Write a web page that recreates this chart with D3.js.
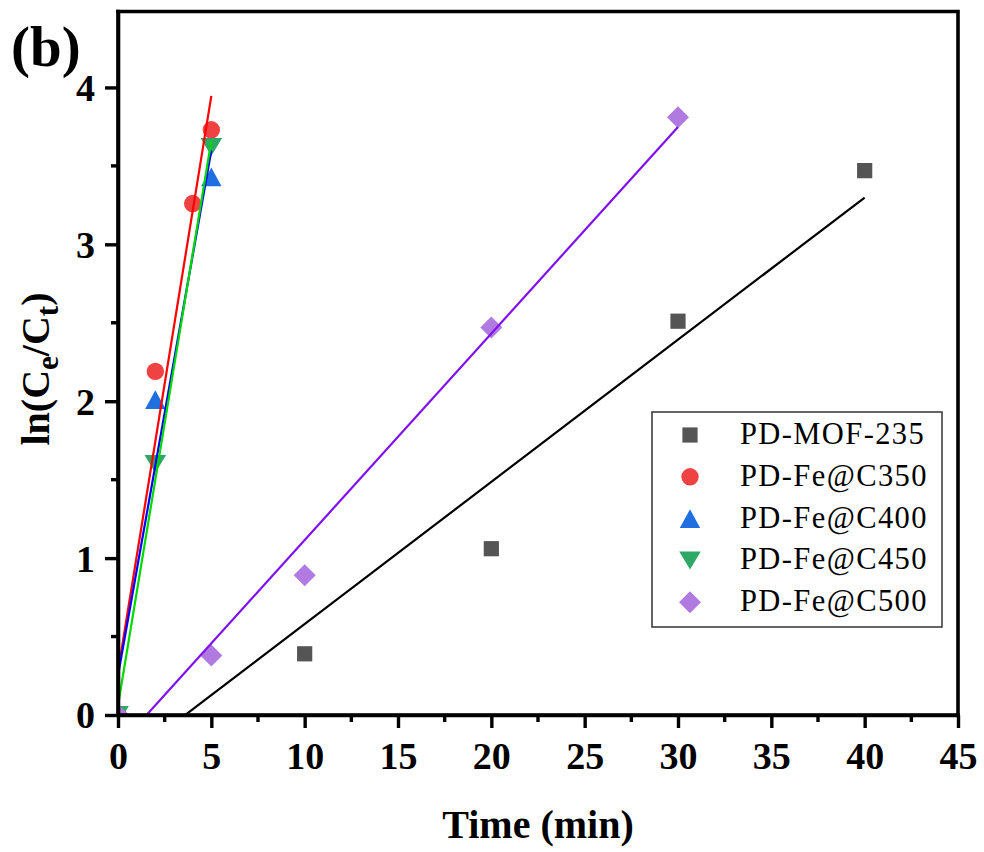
<!DOCTYPE html>
<html>
<head>
<meta charset="utf-8">
<script src="https://cdn.jsdelivr.net/npm/d3@7"></script>
<style>
  html, body { margin: 0; padding: 0; background: #fff; }
  svg { display: block; }
  text { font-family: "Times New Roman", "Liberation Serif", serif; fill: #000; }
</style>
</head>
<body>
<svg id="chart" width="984" height="852"></svg>
<script>
// Pseudo-first-order kinetics: ln(Ce/Ct) versus time for each adsorbent
const seriesNames = ["PD-MOF-235", "PD-Fe@C350", "PD-Fe@C400", "PD-Fe@C450", "PD-Fe@C500"];

const timeMOF  = [0, 10, 20, 30, 40];
const lnMOF    = [0, 0.39, 1.06, 2.51, 3.47];

const timeC350 = [0, 2, 4, 5];
const lnC350   = [0, 2.19, 3.26, 3.73];

const timeC400 = [0, 2, 5];
const lnC400   = [0, 2.01, 3.43];

const timeC450 = [0, 2, 5];
const lnC450   = [0, 1.60, 3.62];

const timeC500 = [0, 5, 10, 20, 30];
const lnC500   = [0, 0.38, 0.89, 2.47, 3.81];

const xTicks = [0, 5, 10, 15, 20, 25, 30, 35, 40, 45];
const yTicks = [0, 1, 2, 3, 4];
const xMinor = [2.5, 7.5, 12.5, 17.5, 22.5, 27.5, 32.5, 37.5, 42.5];
const yMinor = [0.5, 1.5, 2.5, 3.5];

const xTimes = [timeMOF, timeC350, timeC400, timeC450, timeC500];
const yValues = [lnMOF, lnC350, lnC400, lnC450, lnC500];

// styling per series
const markerShapes = ["square", "circle", "triUp", "triDown", "diamond"];
const markerFills  = ["#555555", "#ef4242", "#1f6fe0", "#2fa865", "#b07ae0"];
const fitColors    = ["#000000", "#ff0000", "#0000ff", "#00d800", "#7f10f0"];

const svg = d3.select("#chart");
const plotLeft = 118, plotRight = 958, plotTop = 11.5, plotBottom = 715;

const x = d3.scaleLinear().domain([0, 45]).range([plotLeft, plotRight]);
const y = d3.scaleLinear().domain([0, 4.484]).range([plotBottom, plotTop]);

function markerPath(shape) {
  switch (shape) {
    case "square":  { const h = 7.6; return `M${-h},${-h}H${h}V${h}H${-h}Z`; }
    case "circle":  { const r = 8.7; return `M${r},0A${r},${r} 0 1,1 ${-r},0A${r},${r} 0 1,1 ${r},0Z`; }
    case "triUp":   { const w = 10.2, h = 9.4; return `M0,${-h}L${w},${h}L${-w},${h}Z`; }
    case "triDown": { const w = 10.8, h = 9.0; return `M0,${h}L${w},${-h}L${-w},${-h}Z`; }
    case "diamond": { const r = 11; return `M0,${-r}L${r},0L0,${r}L${-r},0Z`; }
  }
}

// least-squares straight line through each data set
function linearFit(xs, ys) {
  const n = xs.length;
  const mx = d3.mean(xs), my = d3.mean(ys);
  let sxy = 0, sxx = 0;
  for (let i = 0; i < n; i++) { sxy += (xs[i] - mx) * (ys[i] - my); sxx += (xs[i] - mx) ** 2; }
  const slope = sxy / sxx;
  return { slope, intercept: my - slope * mx };
}

svg.append("defs").append("clipPath").attr("id", "plotClip")
  .append("rect").attr("x", plotLeft).attr("y", plotTop)
  .attr("width", plotRight - plotLeft).attr("height", plotBottom - plotTop);

const plot = svg.append("g").attr("clip-path", "url(#plotClip)");

// markers
seriesNames.forEach((name, i) => {
  const pts = xTimes[i].map((t, j) => [t, yValues[i][j]]);
  plot.append("g").selectAll("path").data(pts).join("path")
    .attr("d", markerPath(markerShapes[i]))
    .attr("transform", d => `translate(${x(d[0])},${y(d[1])})`)
    .attr("fill", markerFills[i]);
});

// fitted lines
seriesNames.forEach((name, i) => {
  const f = linearFit(xTimes[i], yValues[i]);
  const x0 = d3.min(xTimes[i]), x1 = d3.max(xTimes[i]);
  const linePts = [x0, x1].map(t => [t, f.intercept + f.slope * t]);
  plot.append("path")
    .datum(linePts)
    .attr("d", d3.line().x(d => x(d[0])).y(d => y(d[1])))
    .attr("fill", "none")
    .attr("stroke", fitColors[i])
    .attr("stroke-width", 2.2);
});

// frame: top and right edges
svg.append("path")
  .attr("d", `M${plotLeft},${plotTop}H${plotRight}V${plotBottom}`)
  .attr("fill", "none").attr("stroke", "#000").attr("stroke-width", 3.6)
  .attr("stroke-linecap", "square");

// bottom axis
const xAxis = svg.append("g").attr("transform", `translate(0,${plotBottom})`)
  .call(d3.axisBottom(x).tickValues(xTicks).tickSize(13).tickSizeOuter(0).tickPadding(14));
xAxis.select(".domain").attr("stroke-width", 3.6);
xAxis.selectAll(".tick line").attr("stroke-width", 3.4);
xAxis.selectAll(".tick text")
  .attr("font-size", 38).attr("font-weight", "bold")
  .attr("font-family", "'Times New Roman', 'Liberation Serif', serif")
  .attr("dy", "0.71em");
svg.append("g").selectAll("line").data(xMinor).join("line")
  .attr("x1", d => x(d)).attr("x2", d => x(d))
  .attr("y1", plotBottom).attr("y2", plotBottom + 7)
  .attr("stroke", "#000").attr("stroke-width", 3.4);

// left axis
const yAxis = svg.append("g").attr("transform", `translate(${plotLeft},0)`)
  .call(d3.axisLeft(y).tickValues(yTicks).tickFormat(d3.format("d")).tickSize(13).tickSizeOuter(0).tickPadding(10));
yAxis.select(".domain").attr("stroke-width", 3.6);
yAxis.selectAll(".tick line").attr("stroke-width", 3.4);
yAxis.selectAll(".tick text")
  .attr("font-size", 38).attr("font-weight", "bold")
  .attr("font-family", "'Times New Roman', 'Liberation Serif', serif")
  .attr("dy", "0.34em");
svg.append("g").selectAll("line").data(yMinor).join("line")
  .attr("x1", plotLeft - 7).attr("x2", plotLeft)
  .attr("y1", d => y(d)).attr("y2", d => y(d))
  .attr("stroke", "#000").attr("stroke-width", 3.4);

// redraw the corner so the axis lines meet cleanly
svg.append("path")
  .attr("d", `M${plotLeft},${plotTop}V${plotBottom}H${plotRight}`)
  .attr("fill", "none").attr("stroke", "#000").attr("stroke-width", 3.6)
  .attr("stroke-linecap", "square");

// axis titles
svg.append("text")
  .attr("x", (plotLeft + plotRight) / 2).attr("y", 838)
  .attr("text-anchor", "middle").attr("font-size", 40).attr("font-weight", "bold")
  .text("Time (min)");

const yTitle = svg.append("text")
  .attr("transform", "translate(49,369) rotate(-90)")
  .attr("text-anchor", "middle").attr("font-size", 40).attr("font-weight", "bold");
yTitle.append("tspan").text("ln(C");
yTitle.append("tspan").attr("font-size", 31).attr("dy", 9).text("e");
yTitle.append("tspan").attr("dy", -9).text("/C");
yTitle.append("tspan").attr("font-size", 31).attr("dy", 9).text("t");
yTitle.append("tspan").attr("dy", -9).text(")");

// panel label
svg.append("text")
  .attr("x", 11).attr("y", 66)
  .attr("font-size", 57).attr("font-weight", "bold")
  .text("(b)");

// legend
const lg = svg.append("g");
lg.append("rect")
  .attr("x", 652).attr("y", 412).attr("width", 290).attr("height", 215)
  .attr("fill", "#fff").attr("stroke", "#333").attr("stroke-width", 1.5);
seriesNames.forEach((name, i) => {
  const cy = 435 + i * 41.8;
  lg.append("path")
    .attr("d", markerPath(markerShapes[i]))
    .attr("transform", `translate(690,${cy})`)
    .attr("fill", markerFills[i]);
  lg.append("text")
    .attr("x", 740).attr("y", cy + 9)
    .attr("font-size", 30.5).attr("letter-spacing", 1.4)
    .text(name);
});
</script>
</body>
</html>
